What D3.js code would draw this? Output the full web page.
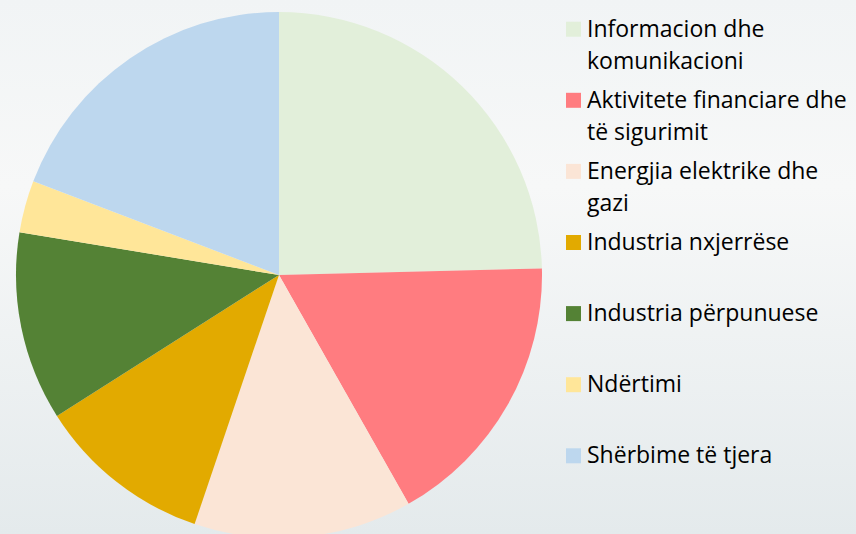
<!DOCTYPE html>
<html>
<head>
<meta charset="utf-8">
<script src="https://cdn.jsdelivr.net/npm/d3@7"></script>
<style>
  html, body { margin: 0; padding: 0; }
  body { width: 856px; height: 534px; overflow: hidden; }
  text { font-family: "Open Sans", "Noto Sans", sans-serif; }
</style>
</head>
<body>
<svg width="856" height="534"></svg>
<script>
// sector labels (each one split into legend lines)
var labels = [
  ["Informacion dhe", "komunikacioni"],
  ["Aktivitete financiare dhe", "të sigurimit"],
  ["Energjia elektrike dhe", "gazi"],
  ["Industria nxjerrëse"],
  ["Industria përpunuese"],
  ["Ndërtimi"],
  ["Shërbime të tjera"]
];

// share of each sector, %
var values = [24.6, 17.2, 13.4, 10.8, 11.6, 3.2, 19.2];

var colors = ["#E2EFDA", "#FF7C80", "#FBE5D6", "#E2AA00", "#548235", "#FFE699", "#BDD7EE"];

var data = values.map(function(v, i) { return {label: labels[i], value: v}; });

var svg = d3.select("svg"),
  width = +svg.attr("width"),
  height = +svg.attr("height");

//###############################################
// Background
//###############################################

var defs = svg.append("defs");
var bg = defs.append("linearGradient")
    .attr("id", "bg")
    .attr("x1", 0).attr("y1", 0).attr("x2", 0).attr("y2", 1);
bg.append("stop").attr("offset", "0%").attr("stop-color", "#f1f4f5");
bg.append("stop").attr("offset", "35%").attr("stop-color", "#f7f8f8");
bg.append("stop").attr("offset", "100%").attr("stop-color", "#e4eaec");

svg.append("rect")
    .attr("width", width)
    .attr("height", height)
    .attr("fill", "url(#bg)");

//###############################################
// Pie
//###############################################

var cx = 279, cy = 275, radius = 263;

var color = d3.scaleOrdinal()
    .domain(d3.range(data.length))
    .range(colors);

var pie = d3.pie()
    .sort(null)
    .value(function(d) { return d.value; });

var arc = d3.arc()
    .innerRadius(0)
    .outerRadius(radius);

svg.append("g")
    .attr("transform", "translate(" + cx + "," + cy + ")")
  .selectAll("path")
  .data(pie(data))
  .enter().append("path")
    .attr("d", arc)
    .attr("fill", function(d, i) { return color(i); });

//###############################################
// Legend
//###############################################

var legendY = d3.scaleLinear()
    .domain([0, data.length - 1])
    .range([36.7, 463.3]);

var item = svg.append("g")
  .selectAll("g")
  .data(data)
  .enter().append("g")
    .attr("transform", function(d, i) { return "translate(566," + legendY(i) + ")"; });

item.append("rect")
    .attr("x", 0)
    .attr("y", -15)
    .attr("width", 15)
    .attr("height", 15)
    .attr("fill", function(d, i) { return color(i); });

item.append("text")
    .attr("x", 21)
    .attr("font-size", 23)
    .attr("fill", "#000")
  .selectAll("tspan")
  .data(function(d) { return d.label; })
  .enter().append("tspan")
    .attr("x", 21)
    .attr("y", function(d, j) { return j * 32.5; })
    .text(function(d) { return d; });
</script>
</body>
</html>
